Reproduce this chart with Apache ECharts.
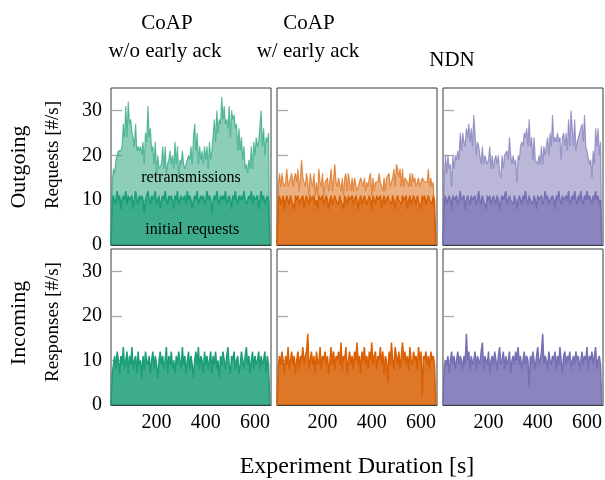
<!DOCTYPE html>
<html>
<head>
<meta charset="utf-8">
<title>Outgoing requests and incoming responses</title>
<script src="https://cdn.jsdelivr.net/npm/echarts@6/dist/echarts.min.js"></script>
<style>
  html, body { margin: 0; padding: 0; background: #fff; }
  #chart { width: 605px; height: 480px; }
</style>
</head>
<body>
<div id="chart"></div>
<script>
// Data: requests / responses per second, one sample every 5 s (15 s .. 660 s)
// ------------------------------

// time categories; the last one (665 s) only closes the axis, it has no sample
var times = [];
for (var t = 15; t <= 665; t += 5) times.push(String(t));

var xTicks = [200, 400, 600];
var yTicks = [0, 10, 20, 30];
var yInnerTicks = [10, 20, 30];

// CoAP w/o early ack
var initialNoAck = [
    0, 10, 11, 9, 10, 12, 10, 11, 8, 10,
    11, 10, 12, 9, 11, 10, 10, 11, 8, 10,
    12, 10, 9, 11, 10, 11, 10, 7, 10, 11,
    12, 10, 9, 11, 10, 10, 12, 9, 10, 11,
    8, 10, 11, 10, 12, 10, 9, 11, 10, 11,
    10, 8, 11, 10, 12, 9, 10, 11, 10, 10,
    11, 9, 12, 10, 11, 10, 8, 10, 11, 10,
    12, 9, 10, 11, 10, 11, 9, 10, 12, 10,
    11, 10, 7, 10, 11, 10, 12, 10, 9, 11,
    10, 11, 10, 12, 9, 10, 11, 10, 8, 11,
    10, 12, 10, 9, 11, 10, 11, 10, 12, 10,
    9, 10, 11, 10, 12, 9, 11, 10, 10, 11,
    8, 10, 12, 10, 11, 9, 10, 11, 10, 0
];
var retransNoAck = [
    0, 4, 6, 7, 9, 8, 11, 10, 13, 12,
    16, 14, 19, 15, 21, 17, 18, 14, 16, 12,
    15, 11, 13, 10, 12, 9, 13, 11, 15, 12,
    19, 14, 17, 10, 12, 8, 11, 7, 10, 6,
    9, 8, 11, 7, 10, 6, 9, 8, 11, 7,
    10, 9, 12, 8, 10, 6, 9, 7, 11, 8,
    6, 9, 7, 10, 8, 12, 10, 14, 16, 11,
    13, 9, 12, 8, 11, 7, 13, 9, 10, 7,
    12, 9, 14, 11, 17, 13, 18, 15, 19, 16,
    23, 17, 21, 15, 19, 16, 20, 14, 22, 17,
    19, 14, 17, 12, 15, 11, 13, 9, 10, 7,
    9, 6, 8, 7, 10, 8, 12, 10, 14, 11,
    15, 13, 18, 12, 15, 11, 14, 12, 15, 0
];
var responsesNoAck = [
    0, 7, 9, 11, 8, 12, 10, 7, 11, 9,
    13, 8, 10, 12, 7, 11, 9, 13, 8, 10,
    11, 7, 12, 9, 10, 6, 11, 8, 12, 10,
    9, 11, 7, 10, 12, 8, 11, 9, 6, 10,
    12, 9, 11, 8, 10, 13, 7, 11, 9, 12,
    8, 10, 7, 11, 9, 12, 10, 8, 13, 9,
    11, 7, 10, 12, 8, 11, 9, 6, 10, 12,
    9, 13, 8, 11, 10, 7, 12, 9, 11, 8,
    10, 12, 7, 11, 9, 12, 8, 10, 6, 11,
    9, 12, 10, 8, 11, 13, 9, 7, 11, 10,
    12, 8, 10, 11, 7, 9, 12, 10, 8, 11,
    13, 9, 11, 7, 10, 12, 8, 11, 9, 10,
    12, 8, 11, 9, 10, 12, 7, 11, 9, 0
];

// CoAP w/ early ack
var initialEarlyAck = [
    0, 10, 11, 9, 10, 11, 8, 10, 11, 10,
    9, 11, 10, 10, 8, 11, 10, 11, 9, 10,
    10, 11, 8, 10, 11, 10, 9, 11, 10, 10,
    11, 9, 10, 8, 11, 10, 10, 11, 9, 10,
    11, 10, 8, 10, 11, 9, 10, 11, 10, 10,
    9, 11, 10, 10, 8, 11, 10, 9, 11, 10,
    10, 11, 9, 10, 11, 10, 8, 10, 11, 9,
    10, 11, 10, 9, 10, 11, 10, 8, 11, 10,
    9, 11, 10, 10, 11, 8, 10, 11, 9, 10,
    11, 10, 10, 9, 11, 10, 8, 10, 11, 10,
    10, 9, 11, 10, 10, 11, 8, 10, 11, 9,
    10, 11, 10, 9, 11, 10, 10, 8, 11, 10,
    11, 9, 10, 11, 10, 10, 9, 11, 10, 0
];
var retransEarlyAck = [
    0, 3, 5, 4, 6, 3, 5, 4, 6, 3,
    5, 4, 6, 3, 7, 5, 4, 6, 3, 5,
    9, 4, 6, 3, 5, 4, 2, 5, 4, 3,
    5, 2, 4, 3, 6, 4, 3, 5, 2, 4,
    3, 5, 4, 2, 6, 3, 5, 7, 4, 3,
    6, 4, 2, 5, 3, 4, 6, 3, 5, 4,
    2, 4, 3, 5, 4, 2, 5, 3, 4, 6,
    3, 4, 2, 5, 3, 4, 6, 3, 4, 2,
    5, 3, 4, 6, 3, 5, 2, 4, 3, 5,
    4, 6, 3, 5, 4, 7, 5, 8, 6, 5,
    7, 4, 6, 3, 5, 4, 6, 3, 5, 4,
    6, 3, 5, 4, 2, 5, 3, 6, 4, 5,
    3, 5, 4, 6, 3, 5, 4, 3, 4, 0
];
var responsesEarlyAck = [
    0, 8, 11, 9, 12, 10, 7, 11, 9, 13,
    8, 10, 12, 9, 11, 7, 10, 12, 8, 11,
    10, 13, 9, 11, 12, 16, 8, 10, 12, 9,
    11, 7, 12, 10, 9, 13, 8, 11, 10, 12,
    9, 11, 7, 10, 13, 9, 12, 8, 11, 10,
    12, 9, 14, 8, 11, 10, 13, 7, 10, 12,
    9, 11, 8, 12, 10, 14, 9, 11, 7, 12,
    10, 13, 9, 11, 8, 12, 10, 14, 9, 11,
    12, 8, 11, 10, 13, 9, 12, 7, 11, 10,
    5, 12, 9, 14, 10, 8, 13, 11, 9, 12,
    8, 11, 14, 10, 12, 9, 11, 8, 13, 10,
    9, 12, 10, 11, 8, 13, 10, 12, 2, 11,
    10, 12, 9, 11, 8, 12, 10, 11, 9, 0
];

// NDN
var initialNdn = [
    0, 10, 11, 9, 10, 11, 10, 8, 11, 10,
    10, 11, 9, 10, 12, 10, 10, 11, 8, 10,
    11, 10, 9, 11, 10, 10, 11, 9, 10, 12,
    10, 9, 11, 10, 10, 8, 11, 10, 11, 9,
    10, 11, 10, 9, 11, 10, 8, 10, 11, 10,
    10, 12, 9, 10, 11, 10, 10, 9, 11, 10,
    8, 10, 11, 10, 9, 11, 10, 12, 10, 9,
    11, 10, 10, 9, 11, 10, 8, 11, 10, 10,
    11, 9, 10, 12, 10, 11, 9, 10, 10, 11,
    10, 8, 11, 10, 12, 10, 9, 11, 10, 10,
    11, 10, 12, 9, 10, 11, 10, 12, 10, 9,
    11, 10, 12, 10, 9, 11, 10, 12, 10, 11,
    10, 9, 11, 10, 12, 10, 11, 9, 10, 0
];
var retransNdn = [
    0, 5, 9, 7, 10, 6, 8, 5, 9, 7,
    10, 8, 12, 9, 13, 11, 15, 12, 14, 16,
    13, 17, 14, 15, 12, 19, 14, 11, 13, 10,
    12, 9, 11, 8, 10, 12, 7, 9, 11, 8,
    10, 6, 9, 11, 7, 10, 8, 5, 9, 7,
    10, 8, 12, 9, 13, 10, 8, 11, 7, 9,
    6, 10, 8, 12, 14, 11, 15, 12, 16, 13,
    17, 12, 14, 10, 13, 9, 11, 7, 10, 8,
    11, 9, 12, 8, 10, 13, 11, 15, 12, 18,
    13, 16, 12, 15, 11, 14, 10, 13, 15, 12,
    14, 11, 16, 13, 20, 15, 12, 16, 11, 14,
    12, 15, 13, 17, 14, 18, 12, 9, 11, 7,
    9, 6, 10, 8, 14, 12, 15, 11, 13, 0
];
var responsesNdn = [
    0, 8, 10, 9, 11, 7, 10, 12, 9, 11,
    8, 10, 12, 9, 11, 10, 8, 11, 9, 16,
    10, 12, 8, 11, 9, 10, 12, 8, 11, 10,
    9, 12, 14, 8, 11, 10, 9, 12, 7, 10,
    11, 9, 12, 10, 8, 11, 13, 9, 10, 12,
    8, 11, 9, 10, 12, 7, 10, 11, 9, 12,
    10, 13, 9, 11, 8, 10, 12, 9, 11, 10,
    4, 11, 9, 12, 10, 8, 11, 13, 9, 10,
    12, 16, 9, 11, 10, 8, 12, 10, 9, 11,
    10, 12, 8, 11, 9, 13, 10, 7, 11, 12,
    9, 11, 10, 12, 8, 10, 11, 9, 12, 10,
    11, 8, 10, 12, 9, 11, 10, 13, 8, 11,
    10, 12, 9, 11, 13, 8, 10, 11, 9, 0
];

var colTitles = [['CoAP', 'w/o early ack'], ['CoAP', 'w/ early ack'], ['NDN']];
var colors = ['#1b9e77', '#d95f02', '#7570b3'];
var initialSets = [initialNoAck, initialEarlyAck, initialNdn];
var retransSets = [retransNoAck, retransEarlyAck, retransNdn];
var responseSets = [responsesNoAck, responsesEarlyAck, responsesNdn];


// Setup module
// ------------------------------

var serif = '"Liberation Serif", "DejaVu Serif", serif';
var panelLeft = [111, 277, 443];
var panelTop = [88, 249];
var panelHeight = [157, 156];

var grids = [], xAxes = [], yAxes = [], series = [];

for (var r = 0; r < 2; r++) {
    for (var c = 0; c < 3; c++) {
        var idx = r * 3 + c;

        // Setup grid
        grids.push({
            left: panelLeft[c],
            top: panelTop[r],
            width: 160,
            height: panelHeight[r],
            show: true,
            backgroundColor: 'transparent',
            borderColor: '#3a3a3a',
            borderWidth: 1
        });

        // Horizontal axis
        xAxes.push({
            type: 'category',
            gridIndex: idx,
            data: times,
            boundaryGap: false,
            z: 5,
            axisLine: { show: true, lineStyle: { color: '#3a3a3a', width: 1 } },
            axisTick: { show: false },
            splitLine: { show: false },
            axisLabel: {
                show: r === 1,
                interval: function (i, value) {
                    return xTicks.indexOf(Number(value)) >= 0;
                },
                color: '#000',
                fontFamily: serif,
                fontSize: 20,
                margin: 8
            }
        });

        // Vertical axis
        yAxes.push({
            type: 'value',
            gridIndex: idx,
            min: 0,
            max: 35,
            axisLine: { show: false },
            axisTick: {
                show: true,
                inside: true,
                length: 11,
                customValues: yInnerTicks,
                lineStyle: { color: '#aaa', width: 1.3 }
            },
            splitLine: { show: false },
            axisLabel: {
                show: c === 0,
                customValues: yTicks,
                color: '#000',
                fontFamily: serif,
                fontSize: 20,
                margin: 9
            }
        });

        if (r === 0) {
            series.push({
                name: 'initial requests',
                type: 'line',
                xAxisIndex: idx,
                yAxisIndex: idx,
                stack: 'out' + c,
                symbol: 'none',
                lineStyle: { color: colors[c], width: 1.5 },
                areaStyle: { color: colors[c], opacity: 0.85 },
                data: initialSets[c]
            });
            series.push({
                name: 'retransmissions',
                type: 'line',
                xAxisIndex: idx,
                yAxisIndex: idx,
                stack: 'out' + c,
                symbol: 'none',
                lineStyle: { color: colors[c], width: 1.2, opacity: 0.65 },
                areaStyle: { color: colors[c], opacity: 0.5 },
                data: retransSets[c]
            });
        } else {
            series.push({
                name: 'responses',
                type: 'line',
                xAxisIndex: idx,
                yAxisIndex: idx,
                symbol: 'none',
                lineStyle: { color: colors[c], width: 1.5 },
                areaStyle: { color: colors[c], opacity: 0.85 },
                data: responseSets[c]
            });
        }
    }
}

// Texts round the panels
function label(text, x, y, size, rotate) {
    return {
        type: 'text',
        x: x,
        y: y,
        rotation: rotate ? Math.PI / 2 : 0,
        silent: true,
        z: 10,
        style: {
            text: text,
            fill: '#000',
            font: size + 'px ' + serif,
            textAlign: 'center',
            textVerticalAlign: 'middle'
        }
    };
}

var titleX = [[167, 165], [309, 308], [452]];
var titleY = [[23, 51], [23, 51], [60]];
var texts = [];
colTitles.forEach(function (lines, c) {
    lines.forEach(function (line, k) {
        texts.push(label(line, titleX[c][k], titleY[c][k], 21));
    });
});
texts.push(label('Outgoing', 19, 167, 22, true));
texts.push(label('Requests [#/s]', 53, 155, 19, true));
texts.push(label('Incoming', 19, 323, 22, true));
texts.push(label('Responses [#/s]', 53, 322, 19, true));
texts.push(label('Experiment Duration [s]', 357, 467, 24));

var option = {
    animation: false,
    backgroundColor: '#fff',
    grid: grids,
    xAxis: xAxes,
    yAxis: yAxes,
    series: series,
    graphic: texts
};

var chart = echarts.init(document.getElementById('chart'), null, { renderer: 'canvas' });
chart.setOption(option);

// In-panel annotations placed at data coordinates
var retransPos = chart.convertToPixel({ gridIndex: 0 }, ['340', 14.9]);
var initialPos = chart.convertToPixel({ gridIndex: 0 }, ['345', 3.3]);
texts.push(label('retransmissions', retransPos[0], retransPos[1], 16));
texts.push(label('initial requests', initialPos[0], initialPos[1], 16));
chart.setOption({ graphic: texts });
</script>
</body>
</html>
